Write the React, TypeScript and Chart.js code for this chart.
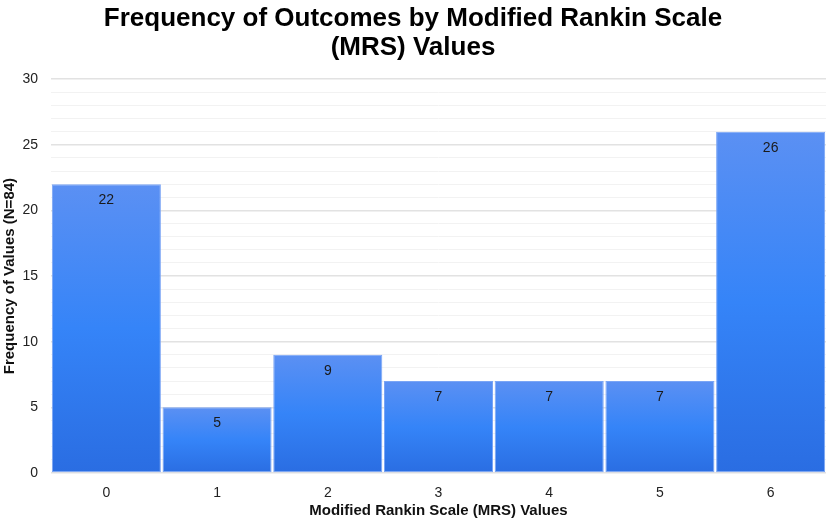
import React, { useEffect, useRef } from 'react';
import { Chart, registerables } from 'chart.js';

Chart.register(...registerables);

const categories = ['0', '1', '2', '3', '4', '5', '6'];
const frequencies = [22, 5, 9, 7, 7, 7, 26];
const titleLines = ['Frequency of Outcomes by Modified Rankin Scale', '(MRS) Values'];

const FONT = 'Arial, "Liberation Sans", sans-serif';

// value labels drawn inside the top of each bar
const barLabels = {
  id: 'barLabels',
  afterDatasetsDraw(chart) {
    const ctx = chart.ctx;
    const meta = chart.getDatasetMeta(0);
    ctx.save();
    ctx.font = `14px ${FONT}`;
    ctx.fillStyle = '#1a1a1a';
    ctx.textAlign = 'center';
    ctx.textBaseline = 'middle';
    meta.data.forEach((bar, i) => {
      ctx.fillText(String(frequencies[i]), bar.x, bar.y + 16);
    });
    ctx.restore();
  },
};

const App = () => {
  const chartRef = useRef(null);
  const chartInstance = useRef(null);

  useEffect(() => {
    document.body.style.margin = '0';
    if (chartRef.current) {
      if (chartInstance.current) {
        chartInstance.current.destroy();
      }
      const ctx = chartRef.current.getContext('2d');
      chartInstance.current = new Chart(ctx, {
        type: 'bar',
        data: {
          labels: categories,
          datasets: [
            {
              data: frequencies,
              backgroundColor: (c) => {
                const chart = c.chart;
                const y = chart.scales && chart.scales.y;
                if (!chart.chartArea || !y || c.raw === undefined) return '#3a7bf0';
                const top = y.getPixelForValue(c.raw);
                const bottom = y.getPixelForValue(0);
                const g = chart.ctx.createLinearGradient(0, top, 0, bottom);
                g.addColorStop(0, '#5b90f3');
                g.addColorStop(0.5, '#3584f8');
                g.addColorStop(1, '#2a6de2');
                return g;
              },
              borderColor: '#7aa5f5',
              borderWidth: 1,
              borderSkipped: false,
              barPercentage: 0.985,
              categoryPercentage: 1,
            },
          ],
        },
        options: {
          responsive: true,
          maintainAspectRatio: false,
          animation: false,
          layout: { padding: { left: 0, right: 3, top: 0, bottom: 4 } },
          plugins: {
            legend: { display: false },
            tooltip: { enabled: false },
            title: {
              display: true,
              text: titleLines,
              color: '#000',
              font: { family: FONT, size: 26, weight: 'bold', lineHeight: 1.1 },
              padding: { top: 5, bottom: 17 },
            },
          },
          scales: {
            x: {
              grid: { display: false, drawTicks: false },
              border: { display: false },
              ticks: { color: '#222', font: { family: FONT, size: 14 }, padding: 12 },
              afterFit: (s) => {
                s.height = 47;
              },
              title: {
                display: true,
                text: 'Modified Rankin Scale (MRS) Values',
                color: '#111',
                font: { family: FONT, size: 15, weight: 'bold' },
                padding: { top: 2, bottom: 0 },
              },
            },
            y: {
              min: 0,
              max: 30,
              border: { display: false },
              afterFit: (s) => {
                s.width = 51;
              },
              ticks: {
                stepSize: 1,
                autoSkip: false,
                color: '#222',
                font: { family: FONT, size: 14 },
                padding: 13,
                callback: (v) => (Number(v) % 5 === 0 ? String(v) : ''),
              },
              grid: {
                drawTicks: false,
                lineWidth: (c) => (c.tick && c.tick.value % 5 === 0 ? 1.5 : 1),
                color: (c) => (c.tick && c.tick.value % 5 === 0 ? '#e2e2e2' : '#f2f2f2'),
              },
              title: {
                display: true,
                text: 'Frequency of Values (N=84)',
                color: '#111',
                font: { family: FONT, size: 15, weight: 'bold' },
                padding: { top: 1, bottom: 4 },
              },
            },
          },
        },
        plugins: [barLabels],
      });
    }
    return () => {
      if (chartInstance.current) {
        chartInstance.current.destroy();
      }
    };
  }, []);

  return (
    <div style={{ position: 'absolute', left: 0, top: 0, width: 829, height: 524, background: '#fff' }}>
      <canvas ref={chartRef} />
    </div>
  );
};

export default App;
